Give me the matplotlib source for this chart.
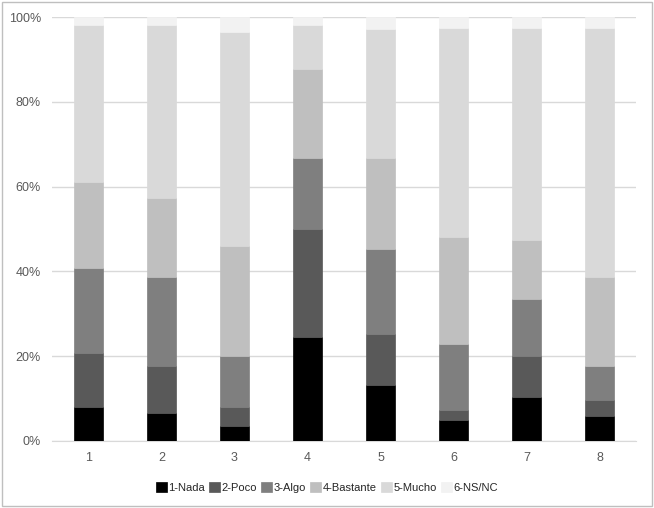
import numpy as np
import matplotlib.pyplot as plt
from matplotlib.patches import Rectangle

categories = ["1", "2", "3", "4", "5", "6", "7", "8"]
nada = [8.1, 6.7, 3.6, 24.5, 13.3, 4.9, 10.4, 6.0]
poco = [12.6, 10.9, 4.5, 25.5, 11.9, 2.4, 9.6, 3.6]
algo = [20.0, 21.0, 11.9, 16.8, 20.0, 15.5, 13.4, 8.0]
bastante = [20.5, 18.6, 25.9, 21.0, 21.6, 25.4, 14.1, 21.0]
mucho = [36.9, 40.9, 50.6, 10.3, 30.4, 49.2, 49.9, 58.8]
nsnc = [1.9, 1.9, 3.5, 1.9, 2.8, 2.6, 2.6, 2.6]

labels = ["1-Nada", "2-Poco", "3-Algo", "4-Bastante", "5-Mucho", "6-NS/NC"]
series = [nada, poco, algo, bastante, mucho, nsnc]
colors = ["#000000", "#595959", "#7f7f7f", "#bfbfbf", "#d9d9d9", "#f2f2f2"]

plt.rcParams['font.family'] = ['Liberation Sans', 'DejaVu Sans']

fig = plt.figure(figsize=(6.54, 5.08), dpi=100)
ax = fig.add_axes([0.0795, 0.1319, 0.893, 0.8346])

x = np.arange(len(categories))
bottom = np.zeros(len(categories))
for vals, lab, col in zip(series, labels, colors):
    ax.bar(x, vals, bottom=bottom, width=0.4, color=col, label=lab,
           edgecolor=col, linewidth=0.5, zorder=3)
    bottom += np.array(vals)

ax.set_xlim(-0.5, len(categories) - 0.5)
ax.set_ylim(0, 100)
ax.set_yticks(range(0, 101, 20))
ax.set_yticklabels([f"{v}%" for v in range(0, 101, 20)])
ax.set_xticks(x)
ax.set_xticklabels(categories)
ax.yaxis.grid(True, color="#d9d9d9", linewidth=1, zorder=0)
for s in ["top", "right", "left"]:
    ax.spines[s].set_visible(False)
ax.spines["bottom"].set_color("#d9d9d9")
ax.tick_params(axis="both", length=0, labelsize=9, colors="#595959", pad=8)

fig.legend(loc="lower center", bbox_to_anchor=(0.5, 0.01), ncol=6, frameon=False,
           fontsize=8, handlelength=1.0, handleheight=1.0, handletextpad=0.15,
           columnspacing=0.35, labelcolor="#262626")

fig.patches.append(Rectangle((0.003, 0.004), 0.994, 0.992, transform=fig.transFigure,
                             fill=False, edgecolor="#bfbfbf", linewidth=1))

fig.savefig("out.png", dpi=100)
